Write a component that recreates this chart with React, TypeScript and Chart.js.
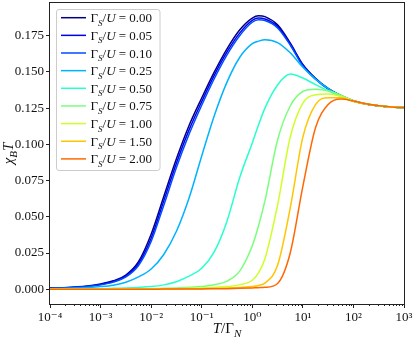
import React, { useEffect, useRef } from 'react';
import { Chart, registerables } from 'chart.js';

Chart.register(...registerables);

// log10(T / Γ_N) sample positions
const LOG_T = [-4, -3.75, -3.5, -3.25, -3, -2.75, -2.5, -2.25, -2, -1.75, -1.5, -1.25, -1, -0.75, -0.5, -0.25, 0, 0.125, 0.25, 0.5, 0.75, 1, 1.25, 1.5, 1.75, 2, 2.25, 2.5, 2.75, 3];

const GAMMA_RATIOS = ['0.00', '0.05', '0.10', '0.25', '0.50', '0.75', '1.00', '1.50', '2.00'];

const COLORS = ['#000080', '#0000f2', '#004dff', '#00b3ff', '#29ffce', '#7bff7b', '#ceff29', '#ffc600', '#ff6800'];

const S_000 = [0.0008, 0.0011, 0.0016, 0.0023, 0.0036, 0.0058, 0.0098, 0.019, 0.038, 0.064, 0.090, 0.113, 0.132, 0.150, 0.166, 0.179, 0.1872, 0.1888, 0.1882, 0.1825, 0.1700, 0.1552, 0.1456, 0.1386, 0.1338, 0.1301, 0.1279, 0.1266, 0.1258, 0.1254];
const S_005 = [0.0007, 0.0010, 0.0014, 0.0021, 0.0033, 0.0053, 0.0091, 0.0176, 0.0352, 0.061, 0.087, 0.110, 0.1295, 0.1478, 0.1638, 0.1768, 0.1856, 0.1872, 0.1866, 0.1814, 0.1692, 0.1546, 0.1453, 0.1384, 0.1337, 0.1300, 0.1279, 0.1266, 0.1258, 0.1254];
const S_010 = [0.0006, 0.0009, 0.0013, 0.0019, 0.0030, 0.0049, 0.0085, 0.0164, 0.0330, 0.058, 0.084, 0.107, 0.1270, 0.1455, 0.1618, 0.1750, 0.1843, 0.1860, 0.1855, 0.1804, 0.1686, 0.1541, 0.1450, 0.1382, 0.1336, 0.1300, 0.1279, 0.1266, 0.1258, 0.1254];
const S_025 = [0.0004, 0.0005, 0.0008, 0.0012, 0.0018, 0.0028, 0.0048, 0.0085, 0.0140, 0.0240, 0.0400, 0.0630, 0.0920, 0.1200, 0.1430, 0.1600, 0.1695, 0.1713, 0.1723, 0.1703, 0.1632, 0.1532, 0.1450, 0.1385, 0.1337, 0.1300, 0.1279, 0.1266, 0.1258, 0.1254];
const S_050 = [0.0001, 0.0001, 0.0002, 0.0003, 0.0004, 0.0006, 0.0008, 0.0012, 0.0018, 0.0030, 0.0052, 0.0090, 0.0145, 0.0260, 0.0470, 0.0770, 0.1010, 0.1135, 0.1250, 0.1410, 0.1485, 0.1458, 0.1412, 0.1370, 0.1332, 0.1299, 0.1279, 0.1266, 0.1258, 0.1254];
const S_075 = [0, 0, 0, 0.0001, 0.0001, 0.0001, 0.0002, 0.0003, 0.0004, 0.0006, 0.0009, 0.0013, 0.0019, 0.0031, 0.0056, 0.0125, 0.0300, 0.0440, 0.0610, 0.1030, 0.1265, 0.1365, 0.1381, 0.1370, 0.1340, 0.1302, 0.1280, 0.1266, 0.1258, 0.1254];
const S_100 = [0, 0, 0, 0, 0, 0.0001, 0.0001, 0.0001, 0.0002, 0.0003, 0.0004, 0.0006, 0.0008, 0.0012, 0.0018, 0.0030, 0.0062, 0.0115, 0.0210, 0.0580, 0.1050, 0.1285, 0.1342, 0.1348, 0.1331, 0.1299, 0.1279, 0.1266, 0.1258, 0.1254];
const S_150 = [0, 0, 0, 0, 0, 0, 0, 0.0001, 0.0001, 0.0001, 0.0002, 0.0003, 0.0004, 0.0006, 0.0008, 0.0012, 0.0018, 0.0026, 0.0042, 0.0165, 0.0560, 0.1050, 0.1275, 0.1322, 0.1322, 0.1296, 0.1278, 0.1266, 0.1258, 0.1254];
const S_200 = [0, 0, 0, 0, 0, 0, 0, 0, 0, 0.0001, 0.0001, 0.0001, 0.0002, 0.0003, 0.0004, 0.0006, 0.0009, 0.0011, 0.0013, 0.0040, 0.0250, 0.0710, 0.1115, 0.1275, 0.1313, 0.1300, 0.1280, 0.1266, 0.1258, 0.1254];

const SERIES = [S_000, S_005, S_010, S_025, S_050, S_075, S_100, S_150, S_200];

const X_MIN = 1e-4;
const X_MAX = 1e3;
const X_TICK_VALUES = [1e-4, 1e-3, 1e-2, 1e-1, 1, 10, 100, 1000];
const X_TICK_LABELS = ['10⁻⁴', '10⁻³', '10⁻²', '10⁻¹', '10⁰', '10¹', '10²', '10³'];
const Y_MIN = -0.0102;
const Y_MAX = 0.1976;
const Y_TICK_VALUES = [0, 0.025, 0.05, 0.075, 0.1, 0.125, 0.15, 0.175];

const FONT = '"Liberation Serif", "DejaVu Serif", serif';

type Seg = { t: string; italic?: boolean; sub?: boolean };

function drawRich(ctx: CanvasRenderingContext2D, segs: Seg[], x: number, y: number, size: number, align: 'left' | 'center') {
  const fontFor = (s: Seg) => `${s.italic ? 'italic ' : ''}${s.sub ? Math.round(size * 0.72) : size}px ${FONT}`;
  const widths = segs.map((s) => {
    ctx.font = fontFor(s);
    return ctx.measureText(s.t).width;
  });
  const total = widths.reduce((a, b) => a + b, 0);
  let cx = align === 'center' ? x - total / 2 : x;
  ctx.textAlign = 'left';
  ctx.textBaseline = 'alphabetic';
  segs.forEach((s, i) => {
    ctx.font = fontFor(s);
    ctx.fillText(s.t, cx, y + (s.sub ? size * 0.28 : 0));
    cx += widths[i];
  });
}

const decorPlugin = {
  id: 'decor',
  afterDatasetsDraw(chart: any) {
    const ctx: CanvasRenderingContext2D = chart.ctx;
    const { left, right, top, bottom } = chart.chartArea;
    const xs = chart.scales.x;
    ctx.save();
    // frame
    ctx.strokeStyle = '#222';
    ctx.lineWidth = 1;
    ctx.strokeRect(Math.round(left) - 0.5, Math.round(top) - 0.5, Math.round(right - left) + 1, Math.round(bottom - top) + 1);
    // minor ticks on x
    ctx.beginPath();
    for (let k = -4; k < 3; k++) {
      for (let m = 2; m <= 9; m++) {
        const px = Math.round(xs.getPixelForValue(m * Math.pow(10, k))) + 0.5;
        ctx.moveTo(px, Math.round(bottom));
        ctx.lineTo(px, Math.round(bottom) + 2);
      }
    }
    ctx.stroke();

    // legend
    const bx = 56.5, by = 9.5, bw = 103.5, bh = 161, r = 2.5;
    ctx.beginPath();
    ctx.moveTo(bx + r, by);
    ctx.lineTo(bx + bw - r, by);
    ctx.arcTo(bx + bw, by, bx + bw, by + r, r);
    ctx.lineTo(bx + bw, by + bh - r);
    ctx.arcTo(bx + bw, by + bh, bx + bw - r, by + bh, r);
    ctx.lineTo(bx + r, by + bh);
    ctx.arcTo(bx, by + bh, bx, by + bh - r, r);
    ctx.lineTo(bx, by + r);
    ctx.arcTo(bx, by, bx + r, by, r);
    ctx.closePath();
    ctx.fillStyle = 'rgba(255,255,255,0.8)';
    ctx.fill();
    ctx.strokeStyle = '#cccccc';
    ctx.stroke();

    GAMMA_RATIOS.forEach((g, i) => {
      const cy = 17.7 + i * 17.65;
      ctx.strokeStyle = COLORS[i];
      ctx.lineWidth = 1.5;
      ctx.beginPath();
      ctx.moveTo(61, cy);
      ctx.lineTo(86, cy);
      ctx.stroke();
      ctx.fillStyle = '#111';
      drawRich(ctx, [{ t: 'Γ' }, { t: 'S', italic: true, sub: true }, { t: '/' }, { t: 'U', italic: true }, { t: ' = ' }, { t: g }], 90.5, cy + 4.5, 13, 'left');
    });

    // axis titles
    ctx.fillStyle = '#111';
    drawRich(ctx, [{ t: 'T', italic: true }, { t: '/Γ' }, { t: 'N', italic: true, sub: true }], (left + right) / 2, 333, 15, 'center');
    ctx.save();
    ctx.translate(13, (top + bottom) / 2);
    ctx.rotate(-Math.PI / 2);
    drawRich(ctx, [{ t: 'χ', italic: true }, { t: 'B', italic: true, sub: true }, { t: 'T', italic: true }], 0, 0, 15, 'center');
    ctx.restore();
    ctx.restore();
  },
};

export default function App() {
  const canvasRef = useRef<HTMLCanvasElement | null>(null);

  useEffect(() => {
    if (!canvasRef.current) return;
    const datasets = SERIES.map((vals, i) => ({
      label: `Γ_S/U = ${GAMMA_RATIOS[i]}`,
      data: LOG_T.map((lt, j) => ({ x: Math.pow(10, lt), y: vals[j] })),
      borderColor: COLORS[i],
      backgroundColor: COLORS[i],
      borderWidth: 1.5,
      pointRadius: 0,
      fill: false,
      cubicInterpolationMode: 'monotone' as const,
      order: SERIES.length - 1 - i,
    }));

    const chart = new Chart(canvasRef.current, {
      type: 'line',
      data: { datasets },
      options: {
        animation: false,
        responsive: true,
        maintainAspectRatio: false,
        layout: { padding: { left: 0, right: 11, top: 3, bottom: 0 } },
        plugins: { legend: { display: false }, tooltip: { enabled: false } },
        scales: {
          x: {
            type: 'logarithmic',
            min: X_MIN,
            max: X_MAX,
            afterBuildTicks: (s: any) => {
              s.ticks = X_TICK_VALUES.map((v) => ({ value: v }));
            },
            afterFit: (s: any) => {
              s.height = 34;
              s.paddingLeft = 0;
              s.paddingRight = 0;
            },
            ticks: {
              autoSkip: false,
              maxRotation: 0,
              minRotation: 0,
              padding: 2,
              color: '#111',
              font: { family: FONT, size: 13 },
              callback: (v: any) => {
                const i = X_TICK_VALUES.findIndex((t) => Math.abs(Math.log10(t) - Math.log10(Number(v))) < 1e-6);
                return i >= 0 ? X_TICK_LABELS[i] : '';
              },
            },
            grid: { display: true, drawOnChartArea: false, drawTicks: true, tickLength: 4, color: '#222', lineWidth: 1 },
            border: { display: false },
          },
          y: {
            type: 'linear',
            min: Y_MIN,
            max: Y_MAX,
            afterBuildTicks: (s: any) => {
              s.ticks = Y_TICK_VALUES.map((v) => ({ value: v }));
            },
            afterFit: (s: any) => {
              s.width = 50;
              s.paddingTop = 0;
              s.paddingBottom = 0;
            },
            ticks: {
              padding: 2,
              color: '#111',
              font: { family: FONT, size: 13 },
              callback: (v: any) => Number(v).toFixed(3),
            },
            grid: { display: true, drawOnChartArea: false, drawTicks: true, tickLength: 4, color: '#222', lineWidth: 1 },
            border: { display: false },
          },
        },
      },
      plugins: [decorPlugin],
    });
    return () => chart.destroy();
  }, []);

  return (
    <div style={{ position: 'fixed', left: 0, top: 0, width: 415, height: 338, background: '#fff' }}>
      <canvas ref={canvasRef} />
    </div>
  );
}
